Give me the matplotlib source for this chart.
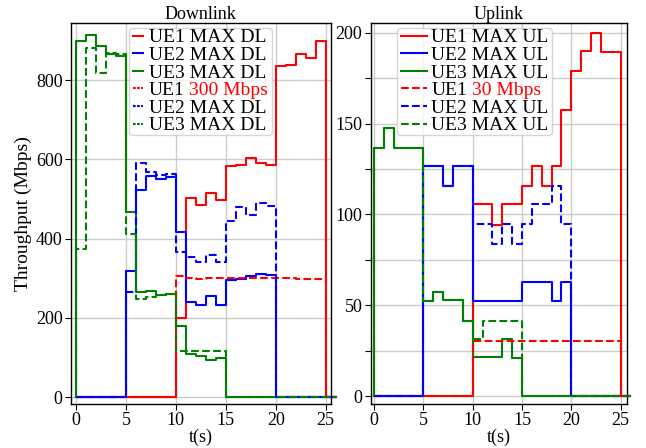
import numpy as np
import matplotlib
matplotlib.use('Agg')
import matplotlib.pyplot as plt
from matplotlib.lines import Line2D
from matplotlib.patches import BoxStyle
from matplotlib.ticker import MultipleLocator, FuncFormatter

plt.rcParams['font.family'] = ['Liberation Serif', 'DejaVu Serif']

# time boundaries (s); each value below covers one 1-second interval
t = np.arange(0, 27)

# ---------------- Downlink (Mbps) ----------------
dl_ue1_max = [0]*10 + [199, 503, 485, 516, 497, 583, 585, 604, 592, 587, 836, 838, 865, 855, 899] + [0]
dl_ue2_max = [0]*5 + [318, 523, 558, 550, 556, 417, 241, 232, 255, 232, 295, 299, 305, 311, 308] + [0]*6
dl_ue3_max = [900, 914, 885, 866, 860, 468, 266, 268, 257, 260, 179, 108, 103, 95, 100] + [0]*11
dl_ue1_lim = [0]*10 + [305, 302, 298, 300, 301, 301, 302, 302, 301, 301, 300, 300, 299, 299, 298] + [0]
dl_ue2_lim = [0]*5 + [266, 590, 569, 561, 563, 367, 353, 342, 359, 340, 444, 481, 460, 491, 482] + [0]*6
dl_ue3_lim = [374, 880, 817, 868, 866, 411, 247, 252, 257, 260, 117, 116, 117, 117, 117] + [0]*11

# ---------------- Uplink (Mbps) ----------------
ul_ue1_max = [0]*10 + [105.6, 105.6, 94.2, 105.6, 105.6, 115.7, 126.8, 115.7, 126.8, 157.7,
                       178.8, 189.8, 199.6, 189.5, 189.5] + [0]
ul_ue2_max = [0]*5 + [126.8, 126.8, 115.7, 126.8, 126.8, 52.4, 52.4, 52.4, 52.4, 52.4,
                      62.6, 62.6, 62.6, 52.4, 62.6] + [0]*6
ul_ue3_max = [136.5, 147.6, 136.5, 136.5, 136.5, 52.3, 57.4, 52.8, 52.8, 41.4,
              21.5, 21.5, 21.5, 31.3, 21.3] + [0]*11
ul_ue1_lim = [0]*10 + [30.4]*15 + [0]
ul_ue2_lim = [0]*5 + [126.8, 126.8, 115.7, 126.8, 126.8, 94.6, 94.6, 83.5, 94.6, 83.5,
                      94.6, 105.6, 105.6, 115.7, 94.6] + [0]*6
ul_ue3_lim = [136.5, 147.6, 136.5, 136.5, 136.5, 52.3, 57.4, 52.8, 52.8, 41.4,
              31.7, 41.4, 41.4, 41.4, 41.4] + [0]*11

dl_labels = ['UE1 MAX DL', 'UE2 MAX DL', 'UE3 MAX DL', 'UE1 300 Mbps', 'UE2 MAX DL', 'UE3 MAX DL']
ul_labels = ['UE1 MAX UL', 'UE2 MAX UL', 'UE3 MAX UL', 'UE1 30 Mbps', 'UE2 MAX UL', 'UE3 MAX UL']
red_parts = ['300 Mbps', '30 Mbps']

colors = ['red', 'blue', 'green', 'red', 'blue', 'green']
styles = ['-', '-', '-', '--', '--', '--']

fig = plt.figure(figsize=(6.46, 4.48), dpi=100)
axL = fig.add_axes([0.1099, 0.0993, 0.402, 0.85])
axR = fig.add_axes([0.5738, 0.0993, 0.3967, 0.85])

LW = 1.5


def draw(ax, series):
    for vals, c, ls in zip(series, colors, styles):
        ax.step(t, np.r_[0, vals], where='pre', color=c, linestyle=ls, lw=LW,
                clip_on=False, zorder=3)


draw(axL, [dl_ue1_max, dl_ue2_max, dl_ue3_max, dl_ue1_lim, dl_ue2_lim, dl_ue3_lim])
draw(axR, [ul_ue1_max, ul_ue2_max, ul_ue3_max, ul_ue1_lim, ul_ue2_lim, ul_ue3_lim])

axL.set_xlim(-0.5, 25.5)
axL.set_ylim(-16, 945)
axR.set_xlim(-0.35, 25.65)
axR.set_ylim(-4, 205.5)

for ax in (axL, axR):
    ax.xaxis.set_major_locator(MultipleLocator(5))
    ax.grid(True, color='#cccccc', lw=1, zorder=0)
    ax.set_axisbelow(True)
    ax.tick_params(direction='out', length=4, width=0.8, labelsize=13, pad=2)
    for s in ax.spines.values():
        s.set_color('black')
        s.set_linewidth(1.0)
    ax.set_xlabel('t(s)', fontsize=13, labelpad=0)

axL.yaxis.set_major_locator(MultipleLocator(200))
axR.yaxis.set_major_locator(MultipleLocator(25))
axR.yaxis.set_major_formatter(FuncFormatter(lambda v, p: f'{int(round(v))}' if round(v) % 50 == 0 else ''))

axL.set_title('Downlink', fontsize=13, pad=1.5)
axR.set_title('Uplink', fontsize=13, pad=1.5)
axL.set_ylabel('Throughput (Mbps)', fontsize=14, labelpad=3)

_round = BoxStyle.Round(pad=0, rounding_size=0.2)


def padded_box(x0, y0, w, h, mutation_size, px=3.5, py=1.0):
    return _round(x0 - px, y0 - py, w + 2 * px, h + 2 * py, mutation_size)


def make_legend(ax, labels, red_part, anchor_x, hlen, htp, dash):
    handles = []
    for c, ls in zip(colors, styles):
        if ls == '--':
            handles.append(Line2D([], [], color=c, lw=LW, linestyle=(0, dash)))
        else:
            handles.append(Line2D([], [], color=c, lw=LW, linestyle='-'))
    leg = ax.legend(handles, labels, loc='upper left', bbox_to_anchor=(anchor_x, 0.984),
                    borderaxespad=0, fontsize=14, labelspacing=0.0, handlelength=hlen,
                    handletextpad=htp, borderpad=0.0, framealpha=0.8)
    leg.legendPatch.set_boxstyle(padded_box)
    leg.set_zorder(5)
    txt = leg.get_texts()[3]
    full = txt.get_text()
    txt.set_alpha(0)
    black_part = full[:len(full) - len(red_part)].rstrip()
    ax.annotate(black_part, xy=(0, 0), xycoords=txt, ha='left', va='bottom',
                fontsize=14, color='black', zorder=10, annotation_clip=False)
    ax.annotate(red_part, xy=(1, 0), xycoords=txt, ha='right', va='bottom',
                fontsize=14, color='red', zorder=10, annotation_clip=False)
    return leg


make_legend(axL, dl_labels, red_parts[0], 0.238, 0.55, 0.27, (1.3, 0.65))
make_legend(axR, ul_labels, red_parts[1], 0.1174, 1.37, 0.2, (3.7, 1.6))

fig.savefig('out.png', dpi=100)
